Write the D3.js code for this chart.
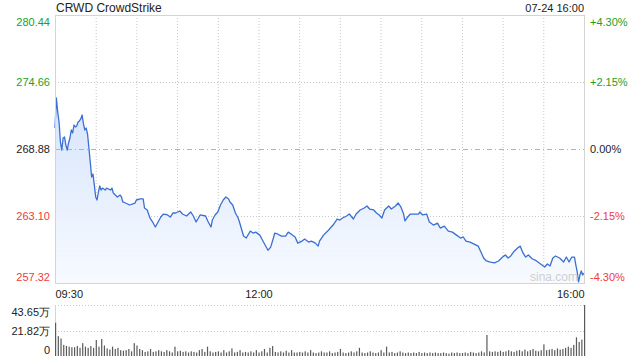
<!DOCTYPE html>
<html>
<head>
<meta charset="utf-8">
<script src="https://cdn.jsdelivr.net/npm/d3@7"></script>
<style>
  body { margin: 0; background: #fff; }
  svg { display: block; font-family: "Liberation Sans", Arial, sans-serif; }
</style>
</head>
<body>
<div id="chart"></div>
<script>
// chart data
const title = "CRWD CrowdStrike";
const stamp = "07-24 16:00";
const prevClose = 268.88;
const priceTicks = [280.44, 274.66, 268.88, 263.10, 257.32];
const pctTicks = ["+4.30%", "+2.15%", "0.00%", "-2.15%", "-4.30%"];
const timeTicks = [0, 150, 390];            // minutes after 09:30
const timeLabels = ["09:30", "12:00", "16:00"];
const volTicks = [43.65, 21.82, 0];
const volLabels = ["43.65万", "21.82万", "0"];

// [minute after 09:30, price]
const pricePoints = [
  [0, 270.69], [1, 273.28], [2, 272.07], [3, 271.21], [4, 269.48], [5, 268.79], [6, 269.83], [7, 269.92],
  [8, 269.22], [9, 268.79], [10, 269.40], [11, 269.83], [12, 270.52], [13, 270.26], [14, 270.95], [15, 270.78],
  [16, 270.86], [17, 271.21], [18, 271.30], [19, 271.47], [20, 271.81], [21, 271.04], [22, 270.52], [23, 270.69],
  [24, 270.17], [25, 268.97], [26, 267.76], [27, 266.46], [28, 266.72], [29, 265.77], [30, 264.74], [31, 264.48],
  [32, 265.17], [33, 265.69], [34, 265.34], [35, 265.51], [37, 265.34], [38, 265.51], [41, 265.34], [42, 265.51],
  [43, 265.08], [46, 264.74], [48, 264.91], [49, 264.74], [50, 264.31], [52, 264.22], [55, 264.05], [59, 264.22],
  [60, 264.48], [63, 264.57], [65, 264.57], [66, 263.79], [68, 263.62], [70, 262.93], [72, 262.58], [74, 262.15],
  [76, 262.58], [78, 263.01], [80, 263.27], [83, 263.19], [85, 263.01], [87, 263.36], [89, 263.36], [92, 263.53],
  [94, 263.27], [97, 263.10], [100, 263.45], [102, 263.10], [104, 262.58], [107, 263.19], [111, 263.10], [113, 262.58],
  [115, 262.15], [116, 262.75], [118, 263.19], [120, 263.45], [122, 264.05], [124, 264.48], [126, 264.74], [128, 264.57],
  [129, 264.31], [131, 264.05], [133, 263.36], [135, 262.93], [136, 262.58], [139, 261.37], [141, 261.20], [144, 261.80],
  [146, 261.63], [148, 261.71], [151, 261.45], [153, 261.01], [155, 260.58], [157, 260.15], [159, 260.41], [161, 261.20],
  [162, 261.63], [164, 261.55], [167, 261.37], [170, 261.37], [172, 261.71], [174, 261.55], [177, 261.29], [179, 260.76],
  [182, 260.93], [184, 261.11], [187, 260.85], [189, 260.93], [192, 260.76], [194, 260.50], [195, 260.93], [198, 261.45],
  [201, 261.80], [203, 262.06], [205, 262.32], [208, 262.84], [210, 262.75], [212, 262.93], [215, 263.10], [217, 263.27],
  [220, 262.84], [222, 263.27], [225, 263.62], [228, 263.79], [230, 263.96], [232, 263.70], [235, 263.62], [237, 263.36],
  [239, 263.19], [241, 262.93], [243, 263.62], [246, 263.96], [248, 263.70], [251, 263.96], [253, 264.22], [255, 263.88],
  [257, 263.27], [258, 262.67], [260, 263.01], [262, 263.27], [265, 263.27], [268, 263.27], [269, 263.45], [271, 263.19],
  [274, 263.27], [276, 262.58], [279, 262.32], [282, 262.49], [284, 262.06], [287, 262.23], [290, 261.80], [293, 261.71],
  [296, 261.45], [299, 261.20], [301, 261.29], [303, 260.93], [306, 260.85], [309, 260.68], [312, 260.50], [314, 259.99],
  [316, 259.48], [318, 259.22], [321, 259.13], [324, 259.05], [327, 259.22], [330, 259.56], [332, 259.74], [334, 259.48],
  [336, 259.65], [338, 259.99], [341, 260.34], [343, 260.50], [345, 259.91], [347, 259.56], [349, 259.74], [352, 259.39],
  [354, 259.30], [356, 259.13], [358, 258.96], [361, 258.70], [363, 258.96], [365, 258.79], [367, 259.48], [369, 259.65],
  [372, 259.48], [375, 259.13], [377, 259.56], [379, 259.13], [381, 259.56], [383, 259.56], [384, 258.87], [385, 258.27],
  [386, 257.41], [387, 258.01], [388, 258.36], [389, 258.01], [390, 258.18]
];

// volume (万 shares), one bar per 2 minutes
const volumes = [
  28.5, 17, 15, 9.5, 8.6, 8, 7.5, 7.5, 8.6, 7,
  11, 8, 7, 8.6, 7, 13.7, 8, 14.6, 9, 6.5,
  5.5, 8, 6, 7, 5, 4.5, 5, 6, 4, 11,
  9, 6, 5, 3.5, 4, 6, 3.5, 4, 5, 4,
  3.5, 5, 4, 3, 8, 4, 4.5, 3.5, 4, 3,
  4, 3.5, 3, 5, 6, 3.5, 8, 4, 3, 3.5,
  4, 3, 5, 3, 4, 6.5, 3, 3.5, 5, 3,
  3.5, 3, 4, 3, 5, 3, 4, 6, 3, 7,
  8.5, 3.5, 3, 4, 3, 4.5, 3, 5, 3, 3,
  3.5, 3, 4, 3, 5, 3, 2.5, 3, 4, 3,
  3, 4, 2.5, 3, 3.5, 6, 3, 2.5, 3, 4,
  3, 4, 7, 3, 2.5, 3, 4, 3, 2.5, 3,
  5, 3, 8, 3, 3.5, 2.5, 3, 4, 3, 2.5,
  3, 2.5, 3, 2.5, 3.5, 2.5, 3, 2.5, 3, 2.5,
  3, 2.5, 2.5, 3, 2.5, 2, 3, 2.5, 3, 2.5,
  2.5, 3, 2.5, 3.5, 3, 2.5, 3, 4, 3, 18,
  4, 3.5, 4, 3.5, 4.5, 3.5, 4, 5, 4, 3.5,
  4.5, 5, 4, 5.5, 4, 5, 6, 4.5, 4, 5,
  10, 5, 5.5, 6, 5, 6.5, 5.5, 6, 7, 8,
  7, 9.5, 16, 12, 14, 43.65
];

const WIDTH = 640, HEIGHT = 360;
const PLOT = { left: 55, right: 584, top: 15, bottom: 283 };
const VOL = { top: 305, bottom: 356 };
const GREEN = "#1ea01e", RED = "#f03c3c", TEXT = "#222";

const svg = d3.select("#chart").append("svg")
  .attr("width", WIDTH)
  .attr("height", HEIGHT);

const x = d3.scaleLinear().domain([0, 390]).range([PLOT.left, PLOT.right]);
const y = d3.scaleLinear().domain([257.32, 280.44]).range([PLOT.bottom, PLOT.top]);
const yVol = d3.scaleLinear().domain([0, 43.65]).range([VOL.bottom, VOL.top]);

function tickColor(i) {
  if (i < 2) return GREEN;
  if (i === 2) return TEXT;
  return RED;
}

// gradient under the line
const grad = svg.append("defs").append("linearGradient")
  .attr("id", "fillGrad")
  .attr("x1", 0).attr("y1", 0).attr("x2", 0).attr("y2", 1);
grad.append("stop").attr("offset", "0%").attr("stop-color", "#d6e4fb");
grad.append("stop").attr("offset", "100%").attr("stop-color", "#f7faff");

// vertical grid every 30 min
const halfHours = d3.range(30, 390, 30);
svg.append("g").selectAll("line")
  .data(halfHours)
  .enter().append("line")
  .attr("x1", d => x(d) + 0.5).attr("x2", d => x(d) + 0.5)
  .attr("y1", PLOT.top).attr("y2", PLOT.bottom)
  .attr("stroke", "#c8c8c8")
  .attr("stroke-dasharray", "1,2");

// horizontal grid
svg.append("g").selectAll("line")
  .data([priceTicks[1], priceTicks[3]])
  .enter().append("line")
  .attr("x1", PLOT.left).attr("x2", PLOT.right)
  .attr("y1", d => Math.round(y(d)) + 0.5).attr("y2", d => Math.round(y(d)) + 0.5)
  .attr("stroke", "#c8c8c8")
  .attr("stroke-dasharray", "1,2");

// area + line
const area = d3.area()
  .x(d => x(d[0]))
  .y0(PLOT.bottom)
  .y1(d => y(d[1]));

svg.append("path")
  .datum(pricePoints)
  .attr("fill", "url(#fillGrad)")
  .attr("d", area);

// previous close line
svg.append("line")
  .attr("x1", PLOT.left).attr("x2", PLOT.right)
  .attr("y1", Math.round(y(prevClose)) + 0.5).attr("y2", Math.round(y(prevClose)) + 0.5)
  .attr("stroke", "#f2a070")
  .attr("stroke-dasharray", "5,3,1,3");

svg.append("path")
  .datum(pricePoints)
  .attr("fill", "none")
  .attr("stroke", "#3b6fd4")
  .attr("stroke-width", 1.3)
  .attr("stroke-linejoin", "round")
  .attr("d", d3.line().x(d => x(d[0])).y(d => y(d[1])));

// frame
svg.append("rect")
  .attr("x", PLOT.left + 0.5).attr("y", PLOT.top + 0.5)
  .attr("width", PLOT.right - PLOT.left).attr("height", PLOT.bottom - PLOT.top)
  .attr("fill", "none")
  .attr("stroke", "#d4d4d4");

// watermark
svg.append("text")
  .attr("x", 578).attr("y", 281)
  .attr("text-anchor", "end")
  .attr("font-size", 12)
  .attr("fill", "#cfcfcf")
  .text("sina.com");

// left price axis
const gLeft = svg.append("g")
  .attr("transform", "translate(" + (PLOT.left - 2) + ",0)")
  .call(d3.axisLeft(y).tickValues(priceTicks).tickSize(0).tickFormat(d3.format(".2f")));
gLeft.select(".domain").remove();
gLeft.selectAll("text")
  .attr("font-size", 11)
  .attr("font-family", "Liberation Sans, Arial, sans-serif")
  .attr("fill", (d, i) => tickColor(i))
  .attr("dy", (d, i) => i === 0 ? "0.95em" : (i === 4 ? "-0.25em" : "0.32em"));

// right percent axis
const gRight = svg.append("g")
  .attr("transform", "translate(" + (PLOT.right + 3) + ",0)")
  .call(d3.axisRight(y).tickValues(priceTicks).tickSize(0).tickFormat((d, i) => pctTicks[i]));
gRight.select(".domain").remove();
gRight.selectAll("text")
  .attr("font-size", 11)
  .attr("font-family", "Liberation Sans, Arial, sans-serif")
  .attr("fill", (d, i) => tickColor(i))
  .attr("dy", (d, i) => i === 0 ? "0.95em" : (i === 4 ? "-0.25em" : "0.32em"));

// time axis
const gTime = svg.append("g")
  .attr("transform", "translate(0," + (PLOT.bottom + 2) + ")")
  .call(d3.axisBottom(x).tickValues(timeTicks).tickSize(0).tickFormat((d, i) => timeLabels[i]));
gTime.select(".domain").remove();
gTime.selectAll("text")
  .attr("font-size", 11)
  .attr("font-family", "Liberation Sans, Arial, sans-serif")
  .attr("fill", TEXT)
  .attr("dy", "0.95em")
  .attr("text-anchor", (d, i) => i === 0 ? "start" : (i === 2 ? "end" : "middle"));

// volume panel
svg.append("g").selectAll("line")
  .data([volTicks[0], volTicks[1]])
  .enter().append("line")
  .attr("x1", PLOT.left).attr("x2", PLOT.right)
  .attr("y1", d => Math.round(yVol(d)) + 0.5).attr("y2", d => Math.round(yVol(d)) + 0.5)
  .attr("stroke", "#c8c8c8")
  .attr("stroke-dasharray", "1,2");

svg.append("line")
  .attr("x1", PLOT.left + 0.5).attr("x2", PLOT.left + 0.5)
  .attr("y1", VOL.top).attr("y2", VOL.bottom)
  .attr("stroke", "#d4d4d4");

svg.append("g").selectAll("rect")
  .data(volumes)
  .enter().append("rect")
  .attr("x", (d, i) => x(i * 2))
  .attr("y", d => yVol(d))
  .attr("width", 1.2)
  .attr("height", d => VOL.bottom - yVol(d))
  .attr("fill", "#5a5a5a");

const gVol = svg.append("g")
  .attr("transform", "translate(" + (PLOT.left - 2) + ",0)")
  .call(d3.axisLeft(yVol).tickValues(volTicks).tickSize(0).tickFormat((d, i) => volLabels[i]));
gVol.select(".domain").remove();
gVol.selectAll("text")
  .attr("font-size", 11)
  .attr("font-family", "Liberation Sans, Arial, sans-serif")
  .attr("fill", TEXT)
  .attr("dy", (d, i) => i === 0 ? "0.95em" : (i === 2 ? "-0.25em" : "0.32em"));

// header
svg.append("text")
  .attr("x", PLOT.left + 1).attr("y", 12)
  .attr("font-size", 12)
  .attr("fill", TEXT)
  .text(title);

svg.append("text")
  .attr("x", PLOT.right).attr("y", 12)
  .attr("text-anchor", "end")
  .attr("font-size", 11)
  .attr("fill", TEXT)
  .text(stamp);
</script>
</body>
</html>
